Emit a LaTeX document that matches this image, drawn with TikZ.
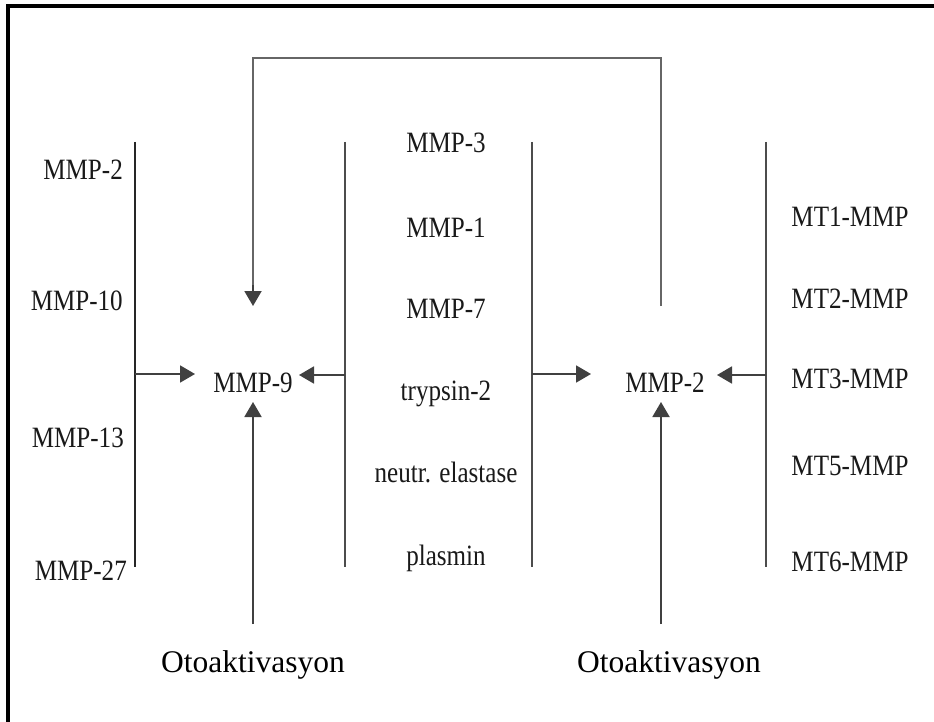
\documentclass[tikz,border=0pt]{standalone}
\usepackage{fontspec}
\setmainfont{Liberation Serif}
\usetikzlibrary{arrows.meta}
\newcommand{\lbl}[1]{\scalebox{0.85}[1]{#1}}
\begin{document}
\begin{tikzpicture}[x=1pt,y=-1pt,
  enz/.style={inner sep=0pt,anchor=base,text=black!90,font=\fontsize{29.5}{30}\selectfont},
  oto/.style={inner sep=0pt,anchor=base,text=black,font=\fontsize{31.5}{33}\selectfont},
  bar/.style={draw=black!70,line width=1.7pt},
  loopline/.style={draw=black!60,line width=2.4pt},
  act/.style={draw=black!75,line width=1.9pt,-{Triangle[length=15pt,width=17pt]}},
  frame/.style={draw=black,line width=4pt}]
\useasboundingbox (0,0) rectangle (934,722);
\fill[white] (0,0) rectangle (934,722);

% outer frame (top and left edges)
\draw[frame] (8,722) -- (8,6) -- (934,6);

% left group of activators
\node[enz,anchor=base east] (l2)  at (123,180) {\lbl{MMP-2}};
\node[enz,anchor=base east] (l10) at (123,310) {\lbl{MMP-10}};
\node[enz,anchor=base east] (l13) at (124,447) {\lbl{MMP-13}};
\node[enz,anchor=base east] (l27) at (127,580) {\lbl{MMP-27}};

% middle group
\node[enz] (m3)  at (446,153) {\lbl{MMP-3}};
\node[enz] (m1)  at (446,237) {\lbl{MMP-1}};
\node[enz] (m7)  at (446,318) {\lbl{MMP-7}};
\node[enz] (tr)  at (446,400) {\lbl{trypsin-2}};
\node[enz] (ne)  at (446,482) {\lbl{neutr. elastase}};
\node[enz] (pl)  at (446,565) {\lbl{plasmin}};

% right group (membrane type MMPs)
\node[enz] (mt1) at (850,226) {\lbl{MT1-MMP}};
\node[enz] (mt2) at (850,308) {\lbl{MT2-MMP}};
\node[enz] (mt3) at (850,388) {\lbl{MT3-MMP}};
\node[enz] (mt5) at (850,475) {\lbl{MT5-MMP}};
\node[enz] (mt6) at (850,571) {\lbl{MT6-MMP}};

% targets
\node[enz] (mmp9) at (253,392) {\lbl{MMP-9}};
\node[enz] (mmp2) at (665,392) {\lbl{MMP-2}};

% autoactivation labels
\node[oto] (auto9) at (253,672) {Otoaktivasyon};
\node[oto] (auto2) at (669,672) {Otoaktivasyon};

% bracket bars
\coordinate (b1t) at (135,142); \coordinate (b1b) at (135,567);
\coordinate (b2t) at (345,142); \coordinate (b2b) at (345,567);
\coordinate (b3t) at (532,142); \coordinate (b3b) at (532,567);
\coordinate (b4t) at (766,142); \coordinate (b4b) at (766,567);
\draw[bar,draw=black!85] (b1t) -- (b1b);
\draw[bar] (b2t) -- (b2b);
\draw[bar] (b3t) -- (b3b);
\draw[bar] (b4t) -- (b4b);

% arrow tips near the targets
\coordinate (t9l) at (195,374);
\coordinate (t9r) at (299,375);
\coordinate (t9b) at (253,402);
\coordinate (t2l) at (591,374);
\coordinate (t2r) at (717,375);
\coordinate (t2b) at (661,402);
\coordinate (s9b) at (253,624);
\coordinate (s2b) at (661,624);

\draw[act] (b1t |- t9l) -- (t9l);
\draw[act] (b2t |- t9r) -- (t9r);
\draw[act] (s9b) -- (t9b);
\draw[act] (b3t |- t2l) -- (t2l);
\draw[act] (b4t |- t2r) -- (t2r);
\draw[act] (s2b) -- (t2b);

% feedback loop from MMP-2 to MMP-9
\coordinate (fb0) at (661,306);
\coordinate (fb1) at (661,58);
\coordinate (fb2) at (253,58);
\coordinate (fb3) at (253,306);
\draw[loopline] (fb0) -- (fb1) -- (fb2) -- (253,285);
\draw[act] (253,285) -- (fb3);
\end{tikzpicture}
\end{document}
